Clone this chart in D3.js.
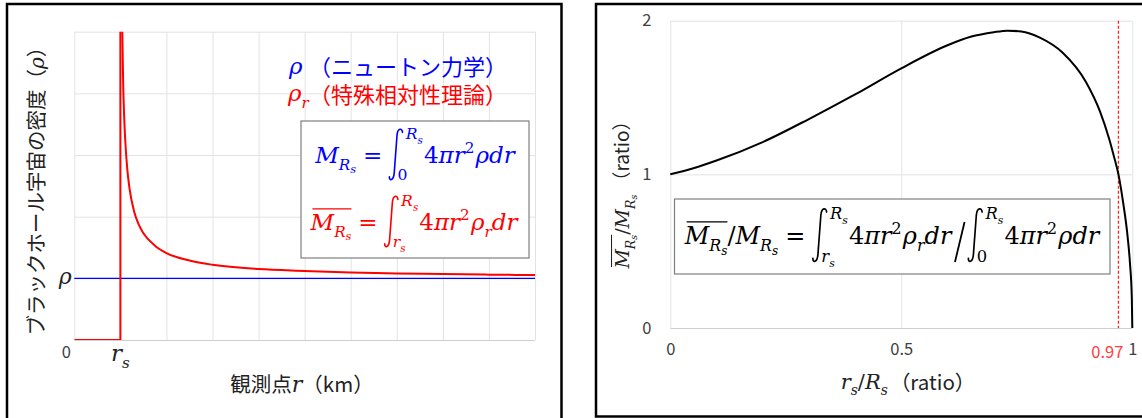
<!DOCTYPE html>
<html>
<head>
<meta charset="utf-8">
<script src="https://cdn.jsdelivr.net/npm/d3@7"></script>
<style>
  body { margin: 0; background: #fff; }
  svg { display: block; }
</style>
</head>
<body>
<svg id="chart" width="1142" height="418"></svg>
<script>
/* --- Data --- */

// Left chart: density vs observation point r (r_s = 1, plain density rho = 1)
const leftGridX = [0, 1, 2, 3, 4, 5, 6, 7, 8, 9, 10];
const leftGridY = [0, 1, 2, 3, 4, 5];
const leftXTicks = [0, 1];            // "0", "r_s"
const leftYTicks = [1];               // "rho"
const newtonR = [0, 10];
const newtonRho = [1, 1];
const stepR = [0, 1, 1];              // relativistic density is 0 inside r_s, then jumps up
const stepRho = [0, 0, 6];
const relR = [1.035, 1.042, 1.06, 1.08, 1.1, 1.15, 1.2, 1.3, 1.4, 1.5, 1.75, 2, 2.5, 3, 4, 5, 6, 7, 8, 9, 10];
const relRho = [5.5, 5.0, 4.2, 3.67, 3.32, 2.77, 2.45, 2.08, 1.87, 1.73, 1.53, 1.41, 1.29, 1.22, 1.15, 1.12, 1.095, 1.08, 1.07, 1.06, 1.054];

// Right chart: mass ratio vs r_s / R_s
const rightGridX = [0, 0.5, 1];
const rightGridY = [0, 1, 2];
const rightXTicks = [0, 0.5, 1];
const rightYTicks = [0, 1, 2];
const markX = 0.97;
const ratioX = [0, 0.05, 0.1, 0.2, 0.3, 0.4, 0.5, 0.6, 0.65, 0.7, 0.73, 0.76, 0.8, 0.85, 0.9, 0.93, 0.95, 0.96, 0.97, 0.98, 0.99, 0.995, 0.999, 1];
const ratioY = [1.0, 1.04, 1.09, 1.21, 1.36, 1.52, 1.69, 1.84, 1.895, 1.925, 1.935, 1.93, 1.89, 1.79, 1.6, 1.41, 1.23, 1.12, 1.0, 0.82, 0.59, 0.42, 0.19, 0];

/* --- Style --- */
const CJK = "'Noto Sans CJK JP', 'Noto Sans', sans-serif";
const SERIF = "'DejaVu Serif', 'Liberation Serif', serif";
const BLUE = "#0000ff";
const RED = "#ff0000";
const GRID = "#e3e3e3";
const TICK = "#404040";

const svg = d3.select("#chart");

/* --- Small math typesetter (text + integral signs) --- */
const LEVELS = {
  0: { k: 1, dy: 0 },
  1: { k: 0.66, dy: 0.3 },
  2: { k: 0.5, dy: 0.44 },
  sup: { k: 0.66, dy: -0.42 }
};

function mathRow(g, x, y, items, fs, color) {
  let cx = x;
  let barStart = null;
  items.forEach(it => {
    if (it.gap !== undefined) { cx += it.gap * fs; return; }
    if (it.barStart) { barStart = cx; return; }
    if (it.barEnd) {
      g.append("line")
        .attr("x1", barStart + 0.08 * fs).attr("x2", cx)
        .attr("y1", y - 0.92 * fs).attr("y2", y - 0.92 * fs)
        .attr("stroke", color).attr("stroke-width", Math.max(1, fs * 0.055));
      return;
    }
    if (it.int) { cx = integral(g, cx, y, fs, color, it.lo, it.hi); return; }
    if (it.slash) {
      g.append("line")
        .attr("x1", cx + 0.05 * fs).attr("y1", y + 0.75 * fs)
        .attr("x2", cx + 0.45 * fs).attr("y2", y - 0.92 * fs)
        .attr("stroke", color).attr("stroke-width", fs * 0.075);
      cx += 0.55 * fs;
      return;
    }
    const lv = LEVELS[it.lv || 0];
    const t = g.append("text")
      .attr("x", cx)
      .attr("y", y + lv.dy * fs)
      .attr("font-family", SERIF)
      .attr("font-style", it.up ? "normal" : "italic")
      .attr("font-size", lv.k * fs)
      .attr("fill", color)
      .text(it.t);
    cx += t.node().getComputedTextLength() + (it.kern || 0) * fs;
  });
  return cx;
}

function integral(g, x, y, fs, color, lo, hi) {
  const p = d3.path();
  p.moveTo(x + 0.58 * fs, y - 1.33 * fs);
  p.bezierCurveTo(x + 0.57 * fs, y - 1.52 * fs, x + 0.37 * fs, y - 1.54 * fs, x + 0.34 * fs, y - 1.2 * fs);
  p.lineTo(x + 0.22 * fs, y + 0.42 * fs);
  p.bezierCurveTo(x + 0.19 * fs, y + 0.8 * fs, x - 0.01 * fs, y + 0.78 * fs, x + 0.01 * fs, y + 0.6 * fs);
  g.append("path").attr("d", p.toString())
    .attr("fill", "none").attr("stroke", color)
    .attr("stroke-width", 0.07 * fs).attr("stroke-linecap", "round");
  const hiEnd = mathRow(g, x + 0.72 * fs, y - 1.05 * fs, hi, 0.68 * fs, color);
  const loEnd = mathRow(g, x + 0.36 * fs, y + 0.74 * fs, lo, 0.68 * fs, color);
  return Math.max(hiEnd, loEnd) + 0.05 * fs;
}

// draw a formula centred on cx
function formula(parent, cx, y, items, fs, color) {
  const g = parent.append("g");
  const end = mathRow(g, 0, y, items, fs, color);
  g.attr("transform", `translate(${cx - end / 2},0)`);
  return g;
}

const Rs = [{ t: "R" }, { t: "s", lv: 1 }];
const rs = [{ t: "r" }, { t: "s", lv: 1 }];
const M_Rs = [{ t: "M" }, { t: "R", lv: 1 }, { t: "s", lv: 2 }];
const Mbar_Rs = [{ barStart: true }, ...M_Rs, { barEnd: true }];
const EQ = [{ gap: 0.3 }, { t: "=", up: true }, { gap: 0.3 }];
const body = [{ t: "4", up: true }, { t: "π" }, { t: "r" }, { t: "2", lv: "sup", up: true, kern: 0.05 }];

/* --- Frames --- */
svg.append("path").attr("d", "M7,420V4H561.5V420")
  .attr("fill", "none").attr("stroke", "#000").attr("stroke-width", 2.5);
svg.append("path").attr("d", "M1146,4H596V416.5H1146")
  .attr("fill", "none").attr("stroke", "#000").attr("stroke-width", 2.5);

/* ================= Left chart ================= */
const xL = d3.scaleLinear().domain([0, 10]).range([74.3, 535]);
const yL = d3.scaleLinear().domain([0, 5]).range([340, 31.7]);
const gL = svg.append("g");

gL.append("g")
  .attr("transform", `translate(0,${yL(0)})`)
  .call(d3.axisBottom(xL).tickValues(leftGridX).tickSize(-(yL(0) - yL(5))).tickFormat(""))
  .call(g => g.select(".domain").remove())
  .selectAll("line").attr("stroke", GRID);
gL.append("g")
  .attr("transform", `translate(${xL(0)},0)`)
  .call(d3.axisLeft(yL).tickValues(leftGridY).tickSize(-(xL(10) - xL(0))).tickFormat(""))
  .call(g => g.select(".domain").remove())
  .selectAll("line").attr("stroke", d => d === 0 ? "#cfcfcf" : GRID);

gL.append("clipPath").attr("id", "clipL")
  .append("rect").attr("x", xL(0)).attr("y", yL(5)).attr("width", xL(10) - xL(0)).attr("height", yL(0) - yL(5));

const lineL = d3.line().x(d => xL(d[0])).y(d => yL(d[1]));
gL.append("path")
  .datum(d3.zip(newtonR, newtonRho))
  .attr("d", lineL).attr("fill", "none").attr("stroke", BLUE).attr("stroke-width", 1.3);

const plotL = gL.append("g").attr("clip-path", "url(#clipL)");
plotL.append("path")
  .datum(d3.zip(stepR, stepRho))
  .attr("d", lineL).attr("fill", "none").attr("stroke", RED).attr("stroke-width", 2);
plotL.append("path")
  .datum(d3.zip(relR, relRho))
  .attr("d", lineL.curve(d3.curveMonotoneX)).attr("fill", "none").attr("stroke", RED).attr("stroke-width", 2);

// tick labels
gL.selectAll(".xlab").data(leftXTicks).join("g")
  .attr("class", "xlab")
  .each(function (d) {
    const g = d3.select(this);
    if (d === 0) {
      g.append("text").attr("x", xL(d) - 8).attr("y", 358)
        .attr("text-anchor", "middle").attr("font-family", CJK).attr("font-size", 16.5)
        .attr("fill", TICK).text("0");
    } else {
      formula(g, xL(d), 361, rs, 23, "#222");
    }
  });
gL.selectAll(".ylab").data(leftYTicks).join("g")
  .attr("class", "ylab")
  .each(function (d) {
    formula(d3.select(this), xL(0) - 9, yL(d) + 6, [{ t: "ρ" }], 22, "#222");
  });

// axis titles
const xTitleL = gL.append("text")
  .attr("x", 302).attr("y", 392)
  .attr("text-anchor", "middle").attr("font-family", CJK).attr("font-size", 20.5).attr("fill", "#222");
xTitleL.append("tspan").text("観測点");
xTitleL.append("tspan").attr("font-family", SERIF).attr("font-style", "italic").attr("font-size", 22).text("r");
xTitleL.append("tspan").text("（km）");

const yTitleL = gL.append("text")
  .attr("transform", "translate(44,186) rotate(-90)")
  .attr("text-anchor", "middle").attr("font-family", CJK).attr("font-size", 20.5).attr("fill", "#222");
yTitleL.append("tspan").text("ブラックホール宇宙の密度（");
yTitleL.append("tspan").attr("font-family", SERIF).attr("font-style", "italic").attr("font-size", 20).text("ρ");
yTitleL.append("tspan").text("）");

// legend texts
gL.append("text").attr("x", 289).attr("y", 74)
  .attr("font-family", SERIF).attr("font-style", "italic").attr("font-size", 23).attr("fill", BLUE).text("ρ");
gL.append("text").attr("x", 309).attr("y", 75)
  .attr("font-family", CJK).attr("font-size", 22).attr("fill", BLUE).text("（ニュートン力学）");
const leg2 = gL.append("g");
mathRow(leg2, 288, 101, [{ t: "ρ" }, { t: "r", lv: 1 }], 23, RED);
gL.append("text").attr("x", 309).attr("y", 103)
  .attr("font-family", CJK).attr("font-size", 22).attr("fill", RED).text("（特殊相対性理論）");

// formula box
gL.append("rect").attr("x", 301).attr("y", 121).attr("width", 228).attr("height", 137)
  .attr("fill", "#fff").attr("stroke", "#7f7f7f").attr("stroke-width", 1.2);
formula(gL, 415, 163, [
  ...M_Rs, ...EQ,
  { int: true, lo: [{ t: "0", up: true }], hi: Rs },
  ...body, { t: "ρ" }, { t: "d" }, { t: "r" }
], 23, BLUE);
formula(gL, 414, 230, [
  ...Mbar_Rs, ...EQ,
  { int: true, lo: rs, hi: Rs },
  ...body, { t: "ρ" }, { t: "r", lv: 1 }, { t: "d" }, { t: "r" }
], 23, RED);

/* ================= Right chart ================= */
const xR = d3.scaleLinear().domain([0, 1]).range([670.3, 1132.3]);
const yR = d3.scaleLinear().domain([0, 2]).range([328, 20.7]);
const gR = svg.append("g");

gR.append("g")
  .attr("transform", `translate(0,${yR(0)})`)
  .call(d3.axisBottom(xR).tickValues(rightGridX).tickSize(-(yR(0) - yR(2))).tickFormat(""))
  .call(g => g.select(".domain").remove())
  .selectAll("line").attr("stroke", GRID);
gR.append("g")
  .attr("transform", `translate(${xR(0)},0)`)
  .call(d3.axisLeft(yR).tickValues(rightGridY).tickSize(-(xR(1) - xR(0))).tickFormat(""))
  .call(g => g.select(".domain").remove())
  .selectAll("line").attr("stroke", d => d === 0 ? "#cfcfcf" : GRID);

// tick labels via axes
gR.append("g")
  .attr("transform", `translate(0,${yR(0)})`)
  .call(d3.axisBottom(xR).tickValues(rightXTicks).tickSize(0).tickPadding(15).tickFormat(d3.format("")))
  .call(g => g.select(".domain").remove())
  .selectAll("text").attr("font-family", CJK).attr("font-size", 16.5).attr("fill", TICK);
gR.append("g")
  .attr("transform", `translate(${xR(0) - 19},0)`)
  .call(d3.axisLeft(yR).tickValues(rightYTicks).tickSize(0).tickPadding(0).tickFormat(d3.format("")))
  .call(g => g.select(".domain").remove())
  .selectAll("text").attr("font-family", CJK).attr("font-size", 16.5).attr("fill", TICK);

gR.append("text")
  .attr("x", xR(1) - 9).attr("y", yR(0) + 30)
  .attr("text-anchor", "end").attr("font-family", CJK).attr("font-size", 16.5)
  .attr("fill", "#ff3b3b").text(markX);

// dashed marker
gR.append("line")
  .attr("x1", xR(markX)).attr("x2", xR(markX))
  .attr("y1", yR(2)).attr("y2", yR(0))
  .attr("stroke", "#ff2020").attr("stroke-width", 1.3).attr("stroke-dasharray", "3,2");

// curve
gR.append("path")
  .datum(d3.zip(ratioX, ratioY))
  .attr("d", d3.line().x(d => xR(d[0])).y(d => yR(d[1])).curve(d3.curveMonotoneX))
  .attr("fill", "none").attr("stroke", "#000").attr("stroke-width", 2);

// formula box
gR.append("rect").attr("x", 674.5).attr("y", 199).attr("width", 435.5).attr("height", 75)
  .attr("fill", "#fff").attr("stroke", "#7f7f7f").attr("stroke-width", 1.2);
formula(gR, 892, 244, [
  ...Mbar_Rs, { t: "/", up: true }, ...M_Rs, ...EQ,
  { int: true, lo: rs, hi: Rs },
  ...body, { t: "ρ" }, { t: "r", lv: 1 }, { t: "d" }, { t: "r" },
  { gap: 0.1 }, { slash: true }, { gap: 0.05 },
  { int: true, lo: [{ t: "0", up: true }], hi: Rs },
  ...body, { t: "ρ" }, { t: "d" }, { t: "r" }
], 24, "#000");

// axis titles
const xTitleR = gR.append("g");
const xEnd = mathRow(xTitleR, 0, 389, [...rs, { t: "/", up: true }, ...Rs], 21, "#222");
const xCjk = xTitleR.append("text").attr("x", xEnd + 2).attr("y", 390)
  .attr("font-family", CJK).attr("font-size", 20.5).attr("fill", "#222").text("（ratio）");
const xw = xEnd + 2 + xCjk.node().getComputedTextLength();
xTitleR.attr("transform", `translate(${908 - xw / 2},0)`);

const yTitleR = gR.append("g");
const yInner = yTitleR.append("g");
const yEnd = mathRow(yInner, 0, 0, [...Mbar_Rs, { t: "/", up: true }, ...M_Rs], 19, "#222");
const yCjk = yInner.append("text").attr("x", yEnd + 4).attr("y", 0)
  .attr("font-family", CJK).attr("font-size", 19).attr("fill", "#222").text("（ratio）");
const yw = yEnd + 4 + yCjk.node().getComputedTextLength();
yTitleR.attr("transform", `translate(629,${190 + yw / 2}) rotate(-90)`);
</script>
</body>
</html>
